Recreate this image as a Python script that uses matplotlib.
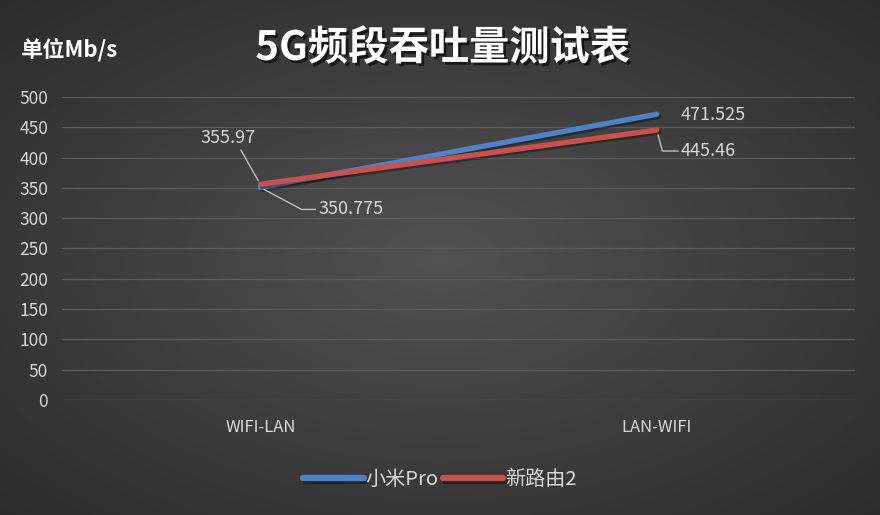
import numpy as np
import matplotlib
matplotlib.use("Agg")
import matplotlib.pyplot as plt
import matplotlib.patheffects as pe

plt.rcParams["font.family"] = ["Noto Sans CJK SC", "DejaVu Sans"]

categories = ["WIFI-LAN", "LAN-WIFI"]
series_names = ["小米Pro", "新路由2"]
xiaomi_pro = [350.775, 471.525]
new_router2 = [355.97, 445.46]
y_ticks = [0, 50, 100, 150, 200, 250, 300, 350, 400, 450, 500]

colors = ["#4f81c7", "#c9504d"]
text_color = "#d9d9d9"

fig = plt.figure(figsize=(8.8, 5.15), dpi=100)

# radial dark background
bg = fig.add_axes([0, 0, 1, 1], zorder=-10)
gx, gy = np.meshgrid(np.linspace(-1, 1, 440), np.linspace(-1, 1, 258))
r = np.clip(np.sqrt(gx ** 2 + gy ** 2) / np.sqrt(2), 0, 1)
shade = 0.32 - 0.15 * r
bg.imshow(np.dstack([shade, shade, shade]), aspect="auto", extent=[0, 1, 0, 1])
bg.axis("off")

ax = fig.add_axes([0.0705, 0.2233, 0.9011, 0.5884])
ax.set_facecolor("none")
x = np.arange(len(categories))

shadow = [pe.SimpleLineShadow(offset=(1.5, -1.5), shadow_color="black", alpha=0.35), pe.Normal()]
h1, = ax.plot(x, xiaomi_pro, color=colors[0], lw=3.8, solid_capstyle="round",
              label=series_names[0], path_effects=shadow, zorder=3)
h2, = ax.plot(x, new_router2, color=colors[1], lw=3.8, solid_capstyle="round",
              label=series_names[1], path_effects=shadow, zorder=4)

ax.set_xlim(-0.5, 1.5)
ax.set_ylim(0, 500)
ax.set_yticks(y_ticks)
ax.set_xticks(x)
ax.set_xticklabels(categories)
ax.grid(axis="y", color="#5c5c5c", lw=0.9)
ax.set_axisbelow(True)
for s in ax.spines.values():
    s.set_visible(False)
ax.tick_params(axis="y", length=0, pad=10, labelsize=12.5, labelcolor=text_color)
ax.tick_params(axis="x", length=0, pad=14, labelsize=12, labelcolor=text_color)

line_kw = dict(arrowstyle="-", color="#bfbfbf", lw=1.0, shrinkA=0, shrinkB=3)
lab_kw = dict(textcoords="offset pixels", fontsize=13, color=text_color, va="center")

ax.annotate(f"{new_router2[0]:g}", xy=(x[0], new_router2[0]), xytext=(-32, 46),
            ha="center", arrowprops=dict(line_kw, relpos=(0.7, 0.0)), **lab_kw)
ax.annotate(f"{xiaomi_pro[0]:g}", xy=(x[0], xiaomi_pro[0]), xytext=(58, -22),
            ha="left", arrowprops=dict(line_kw, relpos=(0.0, 0.5),
                                       connectionstyle="angle,angleA=0,angleB=-28,rad=0"),
            **lab_kw)
ax.annotate(f"{xiaomi_pro[1]:g}", xy=(x[1], xiaomi_pro[1]), xytext=(24, -1),
            ha="left", **lab_kw)
ax.annotate(f"{new_router2[1]:g}", xy=(x[1], new_router2[1]), xytext=(24, -21),
            ha="left", arrowprops=dict(line_kw, relpos=(0.0, 0.5),
                                       connectionstyle="angle,angleA=0,angleB=-75,rad=0"),
            **lab_kw)

fig.text(0.503, 0.906, "5G频段吞吐量测试表", ha="center", va="center", fontsize=29,
         fontweight="bold", color="white",
         path_effects=[pe.withSimplePatchShadow(offset=(2, -2), shadow_rgbFace="black", alpha=0.6)])
fig.text(0.024, 0.903, "单位Mb/s", ha="left", va="center", fontsize=16,
         fontweight="bold", color="white")

leg = fig.legend(handles=[h1, h2], loc="center", bbox_to_anchor=(0.5, 0.068), ncol=2,
                 frameon=False, fontsize=14.5, handlelength=3.0, handletextpad=0.1,
                 columnspacing=0.2)
for t in leg.get_texts():
    t.set_color(text_color)
for ln in leg.get_lines():
    ln.set_linewidth(4.5)

fig.savefig("out.png", dpi=100)
